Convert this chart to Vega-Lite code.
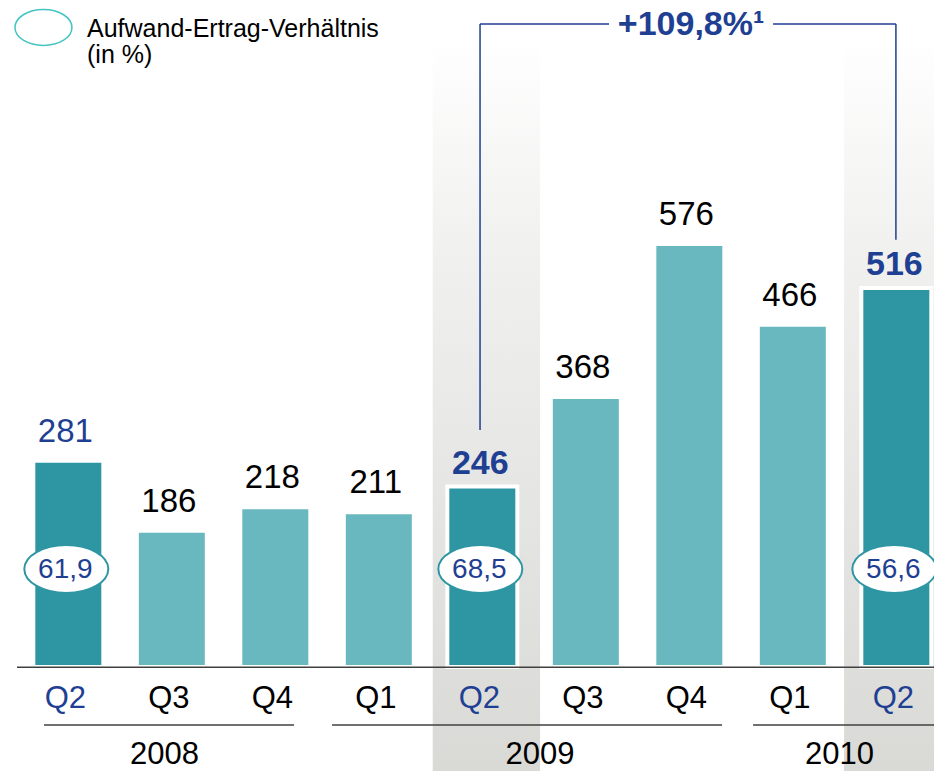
{
  "$schema": "https://vega.github.io/schema/vega-lite/v6.json",
  "width": 934,
  "height": 771,
  "padding": 0,
  "autosize": {"type": "none"},
  "background": "white",
  "config": {
    "view": {"stroke": null},
    "font": "Liberation Sans",
    "scale": {"continuousPadding": 0},
    "locale": {"number": {"decimal": ",", "thousands": ".", "grouping": [3], "currency": ["", " €"]}}
  },
  "data": {
    "values": [
      {"idx": 0, "year": "2008", "quarter": "Q2", "value": 281, "ratio": 61.9},
      {"idx": 1, "year": "2008", "quarter": "Q3", "value": 186, "ratio": null},
      {"idx": 2, "year": "2008", "quarter": "Q4", "value": 218, "ratio": null},
      {"idx": 3, "year": "2009", "quarter": "Q1", "value": 211, "ratio": null},
      {"idx": 4, "year": "2009", "quarter": "Q2", "value": 246, "ratio": 68.5},
      {"idx": 5, "year": "2009", "quarter": "Q3", "value": 368, "ratio": null},
      {"idx": 6, "year": "2009", "quarter": "Q4", "value": 576, "ratio": null},
      {"idx": 7, "year": "2010", "quarter": "Q1", "value": 466, "ratio": null},
      {"idx": 8, "year": "2010", "quarter": "Q2", "value": 516, "ratio": 56.6}
    ]
  },
  "layer": [
    {
      "data": {"values": [{}]},
      "mark": {"type": "rect", "fill": {"gradient": "linear", "x1": 0, "y1": 0, "x2": 0, "y2": 1, "stops": [{"offset": 0, "color": "#ffffff"}, {"offset": 0.3, "color": "#f0f0ef"}, {"offset": 1, "color": "#d9d9d6"}]}},
      "encoding": {
        "x": {"datum": 3.521, "type": "quantitative", "scale": {"domain": [-0.66, 8.364], "nice": false, "zero": false, "padding": 0}, "axis": null},
        "x2": {"datum": 4.558},
        "y": {"datum": 859, "type": "quantitative", "scale": {"domain": [-138.2, 910.6], "nice": false, "zero": false, "padding": 0}, "axis": null},
        "y2": {"datum": -138.2}
      }
    },
    {
      "data": {"values": [{}]},
      "mark": {"type": "rect", "fill": {"gradient": "linear", "x1": 0, "y1": 0, "x2": 0, "y2": 1, "stops": [{"offset": 0, "color": "#ffffff"}, {"offset": 0.3, "color": "#f0f0ef"}, {"offset": 1, "color": "#d9d9d6"}]}},
      "encoding": {
        "x": {"datum": 7.495, "type": "quantitative"},
        "x2": {"datum": 8.8},
        "y": {"datum": 859, "type": "quantitative"},
        "y2": {"datum": -138.2}
      }
    },
    {
      "mark": {"type": "bar", "width": 66, "fill": "white", "stroke": "white", "strokeWidth": 8},
      "encoding": {
        "x": {"field": "idx", "type": "quantitative", "scale": {"domain": [-0.66, 8.364], "nice": false, "zero": false, "padding": 0}},
        "y": {"field": "value", "type": "quantitative"},
        "y2": {"datum": 6}
      }
    },
    {
      "mark": {"type": "bar", "width": 66},
      "encoding": {
        "x": {"field": "idx", "type": "quantitative", "scale": {"domain": [-0.66, 8.364], "nice": false, "zero": false, "padding": 0}},
        "y": {"field": "value", "type": "quantitative"},
        "y2": {"datum": 6},
        "color": {"condition": {"test": "datum.quarter === 'Q2'", "value": "#2e96a3"}, "value": "#6ab8bf"}
      }
    },
    {
      "data": {"values": [{}]},
      "mark": {"type": "rule", "color": "#404040", "strokeWidth": 1.5},
      "encoding": {"x": {"datum": -0.496, "type": "quantitative"}, "x2": {"datum": 8.8}, "y": {"datum": 2.9, "type": "quantitative"}}
    },
    {
      "data": {"values": [{}]},
      "mark": {"type": "rule", "color": "#404040", "strokeWidth": 1.5},
      "encoding": {"x": {"datum": -0.235, "type": "quantitative"}, "x2": {"datum": 2.181}, "y": {"datum": -75.6, "type": "quantitative"}}
    },
    {
      "data": {"values": [{}]},
      "mark": {"type": "rule", "color": "#404040", "strokeWidth": 1.5},
      "encoding": {"x": {"datum": 2.548, "type": "quantitative"}, "x2": {"datum": 6.316}, "y": {"datum": -75.6, "type": "quantitative"}}
    },
    {
      "data": {"values": [{}]},
      "mark": {"type": "rule", "color": "#404040", "strokeWidth": 1.5},
      "encoding": {"x": {"datum": 6.616, "type": "quantitative"}, "x2": {"datum": 8.8}, "y": {"datum": -75.6, "type": "quantitative"}}
    },
    {
      "data": {"values": [{}]},
      "mark": {"type": "rule", "color": "#1f3f93", "strokeWidth": 1.5},
      "encoding": {"x": {"datum": 3.978, "type": "quantitative"}, "y": {"datum": 878, "type": "quantitative"}, "y2": {"datum": 325.7}}
    },
    {
      "data": {"values": [{}]},
      "mark": {"type": "rule", "color": "#1f3f93", "strokeWidth": 1.5},
      "encoding": {"x": {"datum": 3.978, "type": "quantitative"}, "x2": {"datum": 5.224}, "y": {"datum": 878, "type": "quantitative"}}
    },
    {
      "data": {"values": [{}]},
      "mark": {"type": "rule", "color": "#1f3f93", "strokeWidth": 1.5},
      "encoding": {"x": {"datum": 6.809, "type": "quantitative"}, "x2": {"datum": 7.996}, "y": {"datum": 878, "type": "quantitative"}}
    },
    {
      "data": {"values": [{}]},
      "mark": {"type": "rule", "color": "#1f3f93", "strokeWidth": 1.5},
      "encoding": {"x": {"datum": 7.996, "type": "quantitative"}, "y": {"datum": 878, "type": "quantitative"}, "y2": {"datum": 584.3}}
    },
    {
      "data": {"values": [{}]},
      "mark": {"type": "text", "text": "+109,8%¹", "fontSize": 34, "fontWeight": "bold", "color": "#1f3f93", "align": "center", "baseline": "alphabetic"},
      "encoding": {"x": {"datum": 6.017, "type": "quantitative"}, "y": {"datum": 863, "type": "quantitative"}}
    },
    {
      "transform": [{"filter": "!(datum.quarter === 'Q2' && datum.year !== '2008')"}],
      "mark": {"type": "text", "fontSize": 33, "align": "center", "baseline": "alphabetic", "dy": -21, "dx": -3},
      "encoding": {
        "x": {"field": "idx", "type": "quantitative"},
        "y": {"field": "value", "type": "quantitative"},
        "text": {"field": "value", "type": "quantitative", "format": "d"},
        "color": {"condition": {"test": "datum.quarter === 'Q2'", "value": "#1f3f93"}, "value": "#000000"}
      }
    },
    {
      "transform": [{"filter": "datum.quarter === 'Q2' && datum.year !== '2008'"}],
      "mark": {"type": "text", "fontSize": 34, "fontWeight": "bold", "align": "center", "baseline": "alphabetic", "dy": -15, "dx": -2, "color": "#1f3f93"},
      "encoding": {
        "x": {"field": "idx", "type": "quantitative"},
        "y": {"field": "value", "type": "quantitative"},
        "text": {"field": "value", "type": "quantitative", "format": "d"}
      }
    },
    {
      "mark": {"type": "text", "fontSize": 31, "align": "center", "baseline": "alphabetic", "dx": -3},
      "encoding": {
        "x": {"field": "idx", "type": "quantitative"},
        "y": {"datum": -52.5, "type": "quantitative"},
        "text": {"field": "quarter"},
        "color": {"condition": {"test": "datum.quarter === 'Q2'", "value": "#1f3f93"}, "value": "#000000"}
      }
    },
    {
      "data": {"values": [{}]},
      "mark": {"type": "text", "text": "2008", "fontSize": 31, "align": "center", "baseline": "alphabetic", "color": "#000000"},
      "encoding": {"x": {"datum": 0.929, "type": "quantitative"}, "y": {"datum": -128.7, "type": "quantitative"}}
    },
    {
      "data": {"values": [{}]},
      "mark": {"type": "text", "text": "2009", "fontSize": 31, "align": "center", "baseline": "alphabetic", "color": "#000000"},
      "encoding": {"x": {"datum": 4.558, "type": "quantitative"}, "y": {"datum": -128.7, "type": "quantitative"}}
    },
    {
      "data": {"values": [{}]},
      "mark": {"type": "text", "text": "2010", "fontSize": 31, "align": "center", "baseline": "alphabetic", "color": "#000000"},
      "encoding": {"x": {"datum": 7.452, "type": "quantitative"}, "y": {"datum": -128.7, "type": "quantitative"}}
    },
    {
      "transform": [{"filter": "datum.ratio != null"}],
      "mark": {"type": "point", "shape": "M -1 0 C -1 -0.3154 -0.5523 -0.571 0 -0.571 C 0.5523 -0.571 1 -0.3154 1 0 C 1 0.3154 0.5523 0.571 0 0.571 C -0.5523 0.571 -1 0.3154 -1 0 Z", "size": 7056, "filled": true, "fill": "white", "stroke": "#2e96a3", "strokeWidth": 2, "opacity": 1, "xOffset": -2},
      "encoding": {
        "x": {"field": "idx", "type": "quantitative"},
        "y": {"datum": 136.6, "type": "quantitative"}
      }
    },
    {
      "transform": [{"filter": "datum.ratio != null"}],
      "mark": {"type": "text", "fontSize": 28, "align": "center", "baseline": "middle", "dx": -3, "dy": 1, "color": "#1f3f93"},
      "encoding": {
        "x": {"field": "idx", "type": "quantitative"},
        "y": {"datum": 136.6, "type": "quantitative"},
        "text": {"field": "ratio", "type": "quantitative", "format": ".1f"}
      }
    },
    {
      "data": {"values": [{}]},
      "mark": {"type": "point", "shape": "M -1 0 C -1 -0.349 -0.5523 -0.632 0 -0.632 C 0.5523 -0.632 1 -0.349 1 0 C 1 0.349 0.5523 0.632 0 0.632 C -0.5523 0.632 -1 0.349 -1 0 Z", "size": 3249, "filled": false, "stroke": "#45c4c4", "strokeWidth": 1.5, "opacity": 1},
      "encoding": {"x": {"datum": -0.24, "type": "quantitative"}, "y": {"datum": 873.2, "type": "quantitative"}}
    },
    {
      "data": {"values": [{}]},
      "mark": {"type": "text", "text": ["Aufwand-Ertrag-Verhältnis", "(in %)"], "fontSize": 25, "lineHeight": 26.5, "align": "left", "baseline": "alphabetic", "color": "#000000"},
      "encoding": {"x": {"datum": 0.181, "type": "quantitative"}, "y": {"datum": 860.7, "type": "quantitative"}}
    }
  ]
}
